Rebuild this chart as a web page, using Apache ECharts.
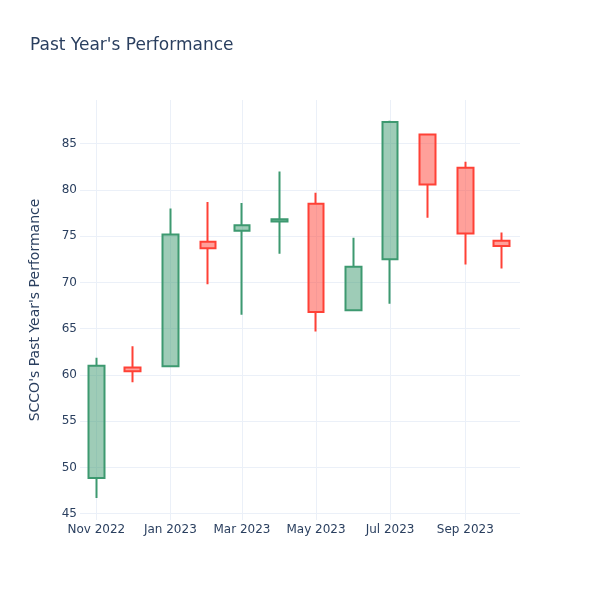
<!DOCTYPE html>
<html>
<head>
<meta charset="utf-8">
<script src="https://cdn.jsdelivr.net/npm/echarts@6/dist/echarts.min.js"></script>
<style>html,body{margin:0;padding:0;background:#fff}#c{width:600px;height:600px}</style>
</head>
<body>
<div id="c"></div>
<script>
// Monthly candles (first day of each month)
const dates = ['2022-11-01','2022-12-01','2023-01-01','2023-02-01','2023-03-01','2023-04-01',
               '2023-05-01','2023-06-01','2023-07-01','2023-08-01','2023-09-01','2023-10-01'];
const openVals  = [48.85, 60.8, 60.95, 74.4, 75.6, 76.6, 78.5, 67.0, 72.5, 86.0, 82.4, 74.5];
const closeVals = [61.0, 60.4, 75.2, 73.7, 76.2, 76.85, 66.8, 71.7, 87.35, 80.6, 75.3, 73.95];
const lowVals   = [46.7, 59.2, 60.95, 69.8, 66.5, 73.1, 64.7, 67.0, 67.7, 77.0, 71.95, 71.5];
const highVals  = [61.85, 63.1, 78.0, 78.7, 78.6, 82.0, 79.7, 74.85, 87.5, 86.0, 83.05, 75.4];
const monthNames = ['Jan','Feb','Mar','Apr','May','Jun','Jul','Aug','Sep','Oct','Nov','Dec'];

const candleData = dates.map((d, i) => [d, openVals[i], closeVals[i], lowVals[i], highVals[i]]);

const FONT = 'DejaVu Sans';
const TXT = '#2a3f5f';
const GRID = '#EBF0F8';

const chart = echarts.init(document.getElementById('c'), null, {renderer: 'canvas'});
chart.setOption({
  backgroundColor: '#fff',
  animation: false,
  title: {
    text: "Past Year's Performance",
    left: 25, top: 32,
    textStyle: {fontFamily: FONT, fontSize: 17, fontWeight: 'normal', color: TXT}
  },
  grid: {left: 80, right: 80, top: 100, bottom: 80, containLabel: false},
  xAxis: {
    type: 'time',
    min: '2022-10-18 14:00',
    max: '2023-10-16 01:00',
    splitNumber: 5,
    axisLine: {show: false},
    axisTick: {show: false},
    splitLine: {show: true, showMinLine: false, showMaxLine: false, lineStyle: {color: GRID, width: 1}},
    axisLabel: {
      color: TXT, fontFamily: FONT, fontSize: 12, margin: 4,
      showMinLabel: false, showMaxLabel: false,
      formatter: function (v) { const d = new Date(v); return monthNames[d.getMonth()] + ' ' + d.getFullYear(); }
    }
  },
  yAxis: {
    type: 'value',
    min: 44.32, max: 89.73,
    splitNumber: 9,
    scale: true,
    name: "SCCO's Past Year's Performance",
    nameLocation: 'middle',
    nameGap: 38,
    nameTextStyle: {fontFamily: FONT, fontSize: 14, color: TXT},
    axisLine: {show: false},
    axisTick: {show: false},
    splitLine: {show: true, showMinLine: false, showMaxLine: false, lineStyle: {color: GRID, width: 1}},
    axisLabel: {color: TXT, fontFamily: FONT, fontSize: 12, margin: 3, showMinLabel: false, showMaxLabel: false}
  },
  series: [{
    type: 'candlestick',
    data: candleData,
    barWidth: 16,
    itemStyle: {
      color: 'rgba(61,153,112,0.5)',
      color0: 'rgba(255,65,54,0.5)',
      borderColor: '#3D9970',
      borderColor0: '#FF4136',
      borderWidth: 2
    }
  }]
});
</script>
</body>
</html>
